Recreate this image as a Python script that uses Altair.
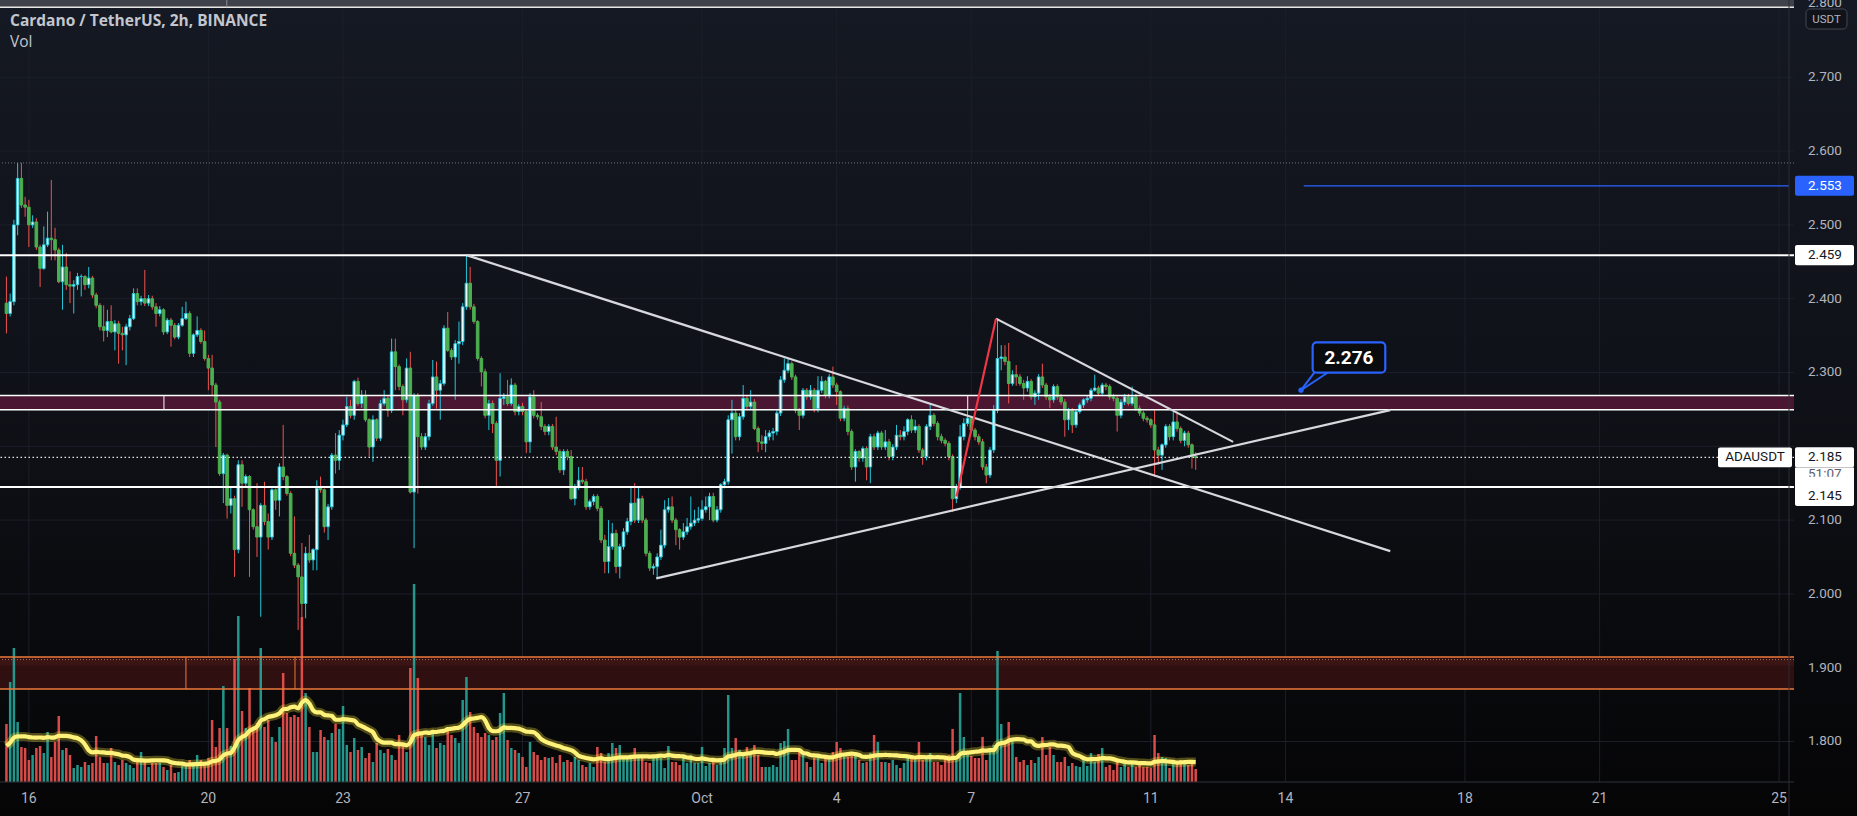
import altair as alt
import pandas as pd

# ------------------------------------------------------------------ data
# time unit: day of September (Oct 1 = 31); 2h candles
START_DAY = 15.5
STEP_DAYS = 2 / 24
FIRST_OPEN = 2.394

close = [
 2.380,2.396,2.500,2.563,2.527,2.524,2.500,2.504,2.470,2.441,
 2.473,2.482,2.480,2.466,2.423,2.443,2.419,2.417,2.419,2.430,
 2.430,2.419,2.428,2.405,2.391,2.362,2.357,2.369,2.355,2.366,
 2.353,2.351,2.362,2.373,2.407,2.396,2.400,2.394,2.400,2.389,
 2.380,2.385,2.355,2.371,2.364,2.348,2.364,2.373,2.380,2.326,
 2.351,2.357,2.342,2.319,2.306,2.283,2.260,2.163,2.188,2.120,
 2.129,2.060,2.175,2.150,2.159,2.114,2.091,2.077,2.120,2.098,
 2.077,2.141,2.127,2.172,2.159,2.136,2.055,2.039,2.023,1.987,
 2.055,2.046,2.060,2.143,2.141,2.091,2.118,2.188,2.181,2.215,
 2.229,2.254,2.242,2.288,2.258,2.269,2.236,2.199,2.236,2.211,
 2.258,2.265,2.249,2.328,2.308,2.281,2.263,2.306,2.138,2.269,
 2.213,2.199,2.213,2.258,2.294,2.276,2.285,2.360,2.330,2.321,
 2.339,2.342,2.389,2.421,2.389,2.369,2.319,2.301,2.242,2.258,
 2.231,2.181,2.265,2.267,2.258,2.283,2.247,2.254,2.247,2.206,
 2.267,2.242,2.240,2.227,2.220,2.227,2.199,2.193,2.168,2.193,
 2.186,2.129,2.145,2.154,2.152,2.118,2.125,2.132,2.116,2.073,
 2.044,2.064,2.082,2.037,2.064,2.084,2.098,2.123,2.100,2.129,
 2.100,2.055,2.035,2.037,2.050,2.066,2.114,2.118,2.100,2.087,
 2.077,2.084,2.091,2.096,2.100,2.102,2.114,2.118,2.132,2.100,
 2.114,2.148,2.152,2.236,2.245,2.213,2.240,2.265,2.254,2.260,
 2.224,2.206,2.204,2.213,2.218,2.220,2.245,2.290,2.303,2.312,
 2.294,2.249,2.242,2.276,2.267,2.276,2.251,2.276,2.288,2.269,
 2.294,2.283,2.274,2.238,2.251,2.220,2.172,2.193,2.184,2.197,
 2.172,2.213,2.199,2.218,2.199,2.206,2.186,2.199,2.215,2.213,
 2.220,2.236,2.222,2.227,2.195,2.186,2.227,2.242,2.231,2.213,
 2.208,2.204,2.186,2.129,2.145,2.213,2.231,2.238,2.222,2.213,
 2.206,2.172,2.161,2.195,2.249,2.319,2.321,2.315,2.285,2.297,
 2.294,2.285,2.279,2.288,2.267,2.272,2.294,2.283,2.267,2.263,
 2.281,2.267,2.260,2.236,2.249,2.229,2.247,2.256,2.263,2.265,
 2.276,2.279,2.272,2.283,2.281,2.267,2.265,2.242,2.260,2.267,
 2.258,2.267,2.251,2.245,2.238,2.236,2.229,2.195,2.188,2.202,
 2.227,2.213,2.233,2.224,2.208,2.218,2.202,2.186,2.185,
]
high = [
 2.430,2.407,2.507,2.584,2.584,2.538,2.534,2.513,2.509,2.473,
 2.498,2.518,2.561,2.496,2.469,2.473,2.462,2.437,2.425,2.435,
 2.433,2.432,2.443,2.431,2.408,2.394,2.391,2.385,2.391,2.371,
 2.370,2.362,2.366,2.378,2.414,2.414,2.404,2.439,2.405,2.404,
 2.394,2.390,2.387,2.374,2.374,2.367,2.367,2.389,2.396,2.383,
 2.353,2.376,2.360,2.357,2.324,2.324,2.286,2.263,2.191,2.190,
 2.145,2.133,2.181,2.181,2.162,2.161,2.116,2.150,2.123,2.152,
 2.109,2.143,2.143,2.177,2.229,2.161,2.139,2.105,2.042,2.069,
 2.064,2.080,2.062,2.154,2.159,2.143,2.122,2.191,2.218,2.222,
 2.236,2.267,2.263,2.290,2.293,2.276,2.276,2.238,2.242,2.238,
 2.263,2.276,2.269,2.346,2.346,2.311,2.284,2.319,2.328,2.272,
 2.272,2.218,2.218,2.263,2.317,2.315,2.290,2.364,2.382,2.333,
 2.344,2.369,2.394,2.459,2.443,2.393,2.371,2.322,2.305,2.263,
 2.262,2.234,2.299,2.272,2.290,2.292,2.286,2.257,2.259,2.250,
 2.272,2.276,2.245,2.260,2.230,2.230,2.230,2.240,2.196,2.196,
 2.196,2.195,2.149,2.172,2.172,2.156,2.128,2.135,2.135,2.119,
 2.080,2.100,2.096,2.087,2.068,2.089,2.103,2.145,2.150,2.145,
 2.133,2.103,2.058,2.041,2.055,2.087,2.127,2.130,2.132,2.103,
 2.089,2.096,2.103,2.132,2.114,2.118,2.127,2.132,2.137,2.137,
 2.119,2.150,2.156,2.242,2.263,2.249,2.245,2.283,2.268,2.276,
 2.264,2.227,2.215,2.222,2.222,2.225,2.249,2.295,2.319,2.320,
 2.315,2.297,2.252,2.279,2.279,2.283,2.279,2.295,2.295,2.290,
 2.298,2.308,2.286,2.276,2.255,2.255,2.223,2.196,2.195,2.200,
 2.200,2.217,2.217,2.221,2.221,2.222,2.210,2.203,2.229,2.222,
 2.227,2.238,2.242,2.236,2.230,2.198,2.230,2.258,2.245,2.234,
 2.217,2.211,2.207,2.189,2.149,2.229,2.238,2.249,2.241,2.225,
 2.217,2.210,2.176,2.199,2.256,2.373,2.337,2.337,2.340,2.303,
 2.310,2.298,2.290,2.295,2.291,2.276,2.298,2.312,2.286,2.271,
 2.284,2.284,2.271,2.264,2.252,2.252,2.250,2.259,2.265,2.269,
 2.279,2.297,2.282,2.286,2.286,2.284,2.271,2.268,2.264,2.271,
 2.271,2.281,2.271,2.255,2.248,2.241,2.238,2.249,2.199,2.204,
 2.230,2.230,2.247,2.247,2.227,2.221,2.221,2.204,2.192,
]
low = [
 2.353,2.376,2.391,2.486,2.523,2.511,2.470,2.496,2.466,2.416,
 2.439,2.470,2.452,2.452,2.421,2.385,2.412,2.394,2.380,2.412,
 2.403,2.412,2.414,2.401,2.387,2.357,2.342,2.348,2.353,2.330,
 2.312,2.330,2.310,2.357,2.371,2.391,2.391,2.390,2.390,2.385,
 2.362,2.376,2.351,2.352,2.335,2.345,2.345,2.362,2.371,2.321,
 2.321,2.348,2.339,2.316,2.276,2.269,2.199,2.160,2.123,2.102,
 2.109,2.023,2.055,2.118,2.146,2.023,2.087,2.050,1.969,2.093,
 2.060,2.073,2.114,2.105,2.154,2.133,2.051,2.035,1.951,1.953,
 1.967,2.042,2.032,2.032,2.137,2.083,2.073,2.114,2.163,2.168,
 2.208,2.226,2.238,2.236,2.255,2.252,2.233,2.186,2.179,2.207,
 2.207,2.255,2.240,2.245,2.276,2.276,2.242,2.259,2.136,2.062,
 2.136,2.195,2.195,2.208,2.255,2.251,2.236,2.282,2.328,2.317,
 2.263,2.312,2.337,2.385,2.385,2.366,2.316,2.281,2.238,2.222,
 2.218,2.145,2.159,2.256,2.255,2.255,2.242,2.242,2.242,2.191,
 2.191,2.238,2.236,2.222,2.215,2.215,2.195,2.188,2.164,2.161,
 2.181,2.127,2.120,2.141,2.149,2.114,2.114,2.120,2.112,2.069,
 2.028,2.028,2.060,2.028,2.021,2.060,2.080,2.093,2.096,2.096,
 2.096,2.051,2.031,2.026,2.021,2.046,2.062,2.110,2.096,2.066,
 2.060,2.073,2.080,2.087,2.092,2.096,2.099,2.110,2.100,2.097,
 2.097,2.110,2.143,2.148,2.190,2.208,2.208,2.236,2.249,2.249,
 2.222,2.192,2.195,2.192,2.208,2.208,2.215,2.241,2.286,2.299,
 2.290,2.245,2.222,2.238,2.263,2.263,2.246,2.246,2.272,2.265,
 2.265,2.279,2.256,2.234,2.234,2.215,2.168,2.152,2.179,2.179,
 2.154,2.150,2.195,2.195,2.195,2.195,2.181,2.181,2.195,2.208,
 2.208,2.215,2.218,2.218,2.191,2.175,2.181,2.222,2.227,2.208,
 2.204,2.200,2.181,2.111,2.123,2.141,2.208,2.227,2.218,2.208,
 2.202,2.168,2.150,2.157,2.191,2.245,2.303,2.310,2.258,2.282,
 2.282,2.282,2.263,2.274,2.263,2.256,2.263,2.279,2.263,2.252,
 2.259,2.263,2.256,2.213,2.222,2.218,2.225,2.244,2.252,2.259,
 2.261,2.274,2.268,2.268,2.276,2.263,2.261,2.220,2.238,2.256,
 2.255,2.255,2.248,2.241,2.234,2.232,2.225,2.159,2.175,2.168,
 2.198,2.208,2.208,2.220,2.204,2.200,2.198,2.170,2.168,
]
volume = [
 58,100,134,60,35,34,22,27,34,36, 29,50,25,40,66,32,34,27,14,17,
 15,20,17,19,46,25,19,19,34,20, 17,22,19,17,14,22,30,22,15,19,
 19,19,15,12,17,9,10,16,15,22, 20,27,22,20,24,62,35,54,96,54,
 36,123,166,71,54,94,52,59,134,55, 62,45,40,55,109,69,65,67,65,165,
 89,55,30,30,52,45,42,49,58,53, 76,37,30,44,32,35,24,29,20,39,
 32,29,33,27,22,47,37,30,114,198, 104,49,45,37,50,34,39,37,54,47,
 44,39,82,105,70,55,49,45,49,47, 42,45,69,89,42,34,32,29,25,15,
 40,30,27,22,25,24,25,19,27,20, 22,20,25,22,17,15,19,15,35,29,
 20,29,39,34,37,25,24,27,34,24, 24,20,19,25,
 24,24,14,36,20,20,17,24,19,27, 19,19,35,16,19,20,17,22,34,87,
 34,44,32,30,35,30,37,27,15,15, 15,17,15,39,41,53,22,22,30,29,
 20,15,24,25,19,24,24,30,40,34, 27,25,27,27,22,19,20,29,47,40,
 20,20,19,22,17,14,19,24,27,22, 40,22,25,29,20,20,17,24,27,53,
 25,89,45,27,26,24,24,45,22,34, 37,131,58,41,60,42,25,20,22,17,
 22,19,25,45,27,35,27,20,20,25, 16,19,16,15,22,16,29,20,28,34,
 15,17,12,20,15,19,15,19,15,17, 15,15,14,47,29,25,24,14,20,20,
 22,19,17,20,13,
]
# MA(20) level read at the left edge (average of the off-screen bars before the first one)
PRIOR_VOLUME_MEAN = 35
MA_LEN = 20

# axis ticks
day_ticks = [16, 20, 23, 27, 31, 34, 37, 41, 44, 48, 51, 55]
day_tick_labels = ["16", "20", "23", "27", "Oct", "4", "7", "11", "14", "18", "21", "25"]
price_ticks = [1.8, 1.9, 2.0, 2.1, 2.2, 2.3, 2.4, 2.5, 2.6, 2.7, 2.8]
price_labels_shown = [1.8, 1.9, 2.0, 2.1, 2.3, 2.4, 2.5, 2.6, 2.7, 2.8]

# drawings
hlines_white = [2.459, 2.145]
zone_maroon = [2.2495, 2.2688]
zone_maroon_edges = [19.01, 36.92]
zone_orange = [1.8711, 1.9145]
zone_orange_inner = [1.903, 1.911]
zone_orange_dotted = 1.911
zone_orange_edges = [19.50, 21.93]
top_band = [2.7950, 2.8047]
top_band_edge = 20.41
range_high_dotted = 2.584
last_price = 2.185
blue_line = {"p": 2.553, "d1": 44.407}
trend_d1 = [25.75, 29.98, 37.55]
trend_p1 = [2.459, 2.021, 2.373]
trend_d2 = [46.335, 46.335, 42.834]
trend_p2 = [2.058, 2.249, 2.206]
red_d = [36.67, 37.55]
red_p = [2.132, 2.373]
callout_anchor = (44.346, 2.276)
callout_box = (44.606, 46.224, 2.2997, 2.3409)
callout_base = [44.643, 44.937]
callout_text = "2.276"

X_MIN, X_MAX = 15.4682, 55.2201
Y_MIN, Y_MAX = 1.74512, 2.80474
W, H = 1794, 782

assert len(close) == len(high) == len(low) == len(volume), (
    len(close), len(high), len(low), len(volume))

# ------------------------------------------------------------------ frames
n = len(close)
days = [START_DAY + i * STEP_DAYS for i in range(n)]
opens = [FIRST_OPEN] + close[:-1]
df = pd.DataFrame({"day": days, "open": opens, "close": close,
                   "high": high, "low": low, "vol": volume})
df["high"] = df[["high", "open", "close"]].max(axis=1)
df["low"] = df[["low", "open", "close"]].min(axis=1)
df["up"] = df["close"] >= df["open"]
df["bt"] = df[["open", "close"]].max(axis=1)
df["bb"] = df[["open", "close"]].min(axis=1)
df["zero"] = 0.0
df["shown"] = True

# history rows only used to seed the moving average window
prior = pd.DataFrame({"day": [START_DAY - (k + 1) * STEP_DAYS for k in range(MA_LEN - 1)][::-1],
                      "vol": [PRIOR_VOLUME_MEAN] * (MA_LEN - 1), "shown": False})
ma_df = pd.concat([prior, df[["day", "vol", "shown"]]], ignore_index=True)

XS = alt.Scale(domain=[X_MIN, X_MAX], nice=False, zero=False)
YS = alt.Scale(domain=[Y_MIN, Y_MAX], nice=False, zero=False)
VS = alt.Scale(domain=[0, H], nice=False, zero=True)


def X(f):
    return alt.X(f, type="quantitative", scale=XS, axis=None)


def Y(f):
    return alt.Y(f, type="quantitative", scale=YS, axis=None)


one = pd.DataFrame({"k": [0]})
FONT = "Roboto"
AXIS_C = "#b2b5be"

# ------------------------------------------------------------------ back layers
bg = alt.Chart(one).mark_rect(
    color=alt.Gradient(gradient="linear",
                       stops=[alt.GradientStop(color="#151923", offset=0),
                              alt.GradientStop(color="#0e1016", offset=0.55),
                              alt.GradientStop(color="#050506", offset=1)],
                       x1=0, x2=0, y1=0, y2=1)
).encode(x=alt.value(0), x2=alt.value(1857), y=alt.value(0), y2=alt.value(816))

grid_h = alt.Chart(pd.DataFrame({"p": price_ticks})).mark_rule(
    color="#1c1f29", strokeWidth=1).encode(y=Y("p"))
grid_v = alt.Chart(pd.DataFrame({"d": day_ticks})).mark_rule(
    color="#1c1f29", strokeWidth=1).encode(x=X("d"))

tb = alt.Chart(pd.DataFrame({"a": [top_band[0]], "b": [top_band[1]]})).mark_rect(
    color="#40424b").encode(y=Y("a"), y2="b")
tb_line = alt.Chart(pd.DataFrame({"p": [top_band[0]]})).mark_rule(
    color="#e6e6e6", strokeWidth=1.5).encode(y=Y("p"))
tb_edge = alt.Chart(pd.DataFrame({"d": [top_band_edge], "a": [top_band[0]], "b": [top_band[1]]})
                    ).mark_rule(color="#8a8c94", strokeWidth=1).encode(x=X("d"), y=Y("a"), y2="b")

zm = alt.Chart(pd.DataFrame({"a": [zone_maroon[0]], "b": [zone_maroon[1]]})).mark_rect(
    color="#4a1631").encode(y=Y("a"), y2="b")
zo = alt.Chart(pd.DataFrame({"a": [zone_orange[0]], "b": [zone_orange[1]]})).mark_rect(
    color="#2f0f10").encode(y=Y("a"), y2="b")
zo_in = alt.Chart(pd.DataFrame({"a": [zone_orange_inner[0]], "b": [zone_orange_inner[1]]})).mark_rect(
    color="#3b1414").encode(y=Y("a"), y2="b")

back = alt.layer(bg, grid_h, grid_v, tb, tb_line, tb_edge, zm, zo, zo_in)

# ------------------------------------------------------------------ volume
vcolor = alt.condition("datum.up", alt.value("#26a69a"), alt.value("#ef5350"))
vol_bars = alt.Chart(df).mark_rule(strokeWidth=2.5, opacity=0.9).encode(
    x=X("day"), y=alt.Y("zero:Q", scale=VS, axis=None), y2="vol:Q", color=vcolor)
ma_base = alt.Chart(ma_df).transform_window(
    ma="mean(vol)", frame=[-(MA_LEN - 1), 0], sort=[alt.SortField("day")]
).transform_filter("datum.shown")
ma_glow = ma_base.mark_line(color="#ffeb3b", strokeWidth=9, opacity=0.3,
                            interpolate="monotone").encode(
    x=X("day"), y=alt.Y("ma:Q", scale=VS, axis=None))
ma_line = ma_base.mark_line(color="#fff27a", strokeWidth=4.2,
                            interpolate="monotone").encode(
    x=X("day"), y=alt.Y("ma:Q", scale=VS, axis=None))
vol = alt.layer(vol_bars, ma_glow, ma_line)

# ------------------------------------------------------------------ front layers
wick_color = alt.condition("datum.up", alt.value("#26c6da"), alt.value("#ef5350"))
wicks = alt.Chart(df).mark_rule(strokeWidth=1).encode(
    x=X("day"), y=Y("low"), y2="high", color=wick_color)
bodies = alt.Chart(df).mark_bar(size=2.6, strokeWidth=1).encode(
    x=X("day"), y=Y("bb"), y2="bt",
    fill=alt.condition("datum.up", alt.value("#e6fbfc"), alt.value("#4caf50")),
    stroke=alt.condition("datum.up", alt.value("#26c6da"), alt.value("#4caf50")))

# axis lines and tick labels
borders = alt.Chart(pd.DataFrame({"d": [X_MAX]})).mark_rule(
    color="#2a2d37", strokeWidth=1).encode(x=X("d"), y=alt.value(0), y2=alt.value(816))
bottom = alt.Chart(pd.DataFrame({"p": [Y_MIN]})).mark_rule(
    color="#2f323c", strokeWidth=1).encode(y=Y("p"))
x_lbl = alt.Chart(pd.DataFrame({"d": day_ticks, "t": day_tick_labels})).mark_text(
    font=FONT, fontSize=14, color=AXIS_C, baseline="middle", align="center").encode(
    x=X("d"), y=alt.value(799), text="t:N")
y_lbl = alt.Chart(pd.DataFrame({"p": price_labels_shown,
                                "t": [f"{p:.3f}" for p in price_labels_shown]})).mark_text(
    font=FONT, fontSize=13.5, color=AXIS_C, baseline="middle", align="left").encode(
    x=alt.value(1808), y=Y("p"), text="t:N")

zm_lines = alt.Chart(pd.DataFrame({"p": zone_maroon})).mark_rule(
    color="#ffffff", strokeWidth=1.5).encode(y=Y("p"))
zm_edges = alt.Chart(pd.DataFrame({"d": zone_maroon_edges, "a": [zone_maroon[0]] * 2,
                                   "b": [zone_maroon[1]] * 2})).mark_rule(
    color="#ffffff", strokeWidth=1).encode(x=X("d"), y=Y("a"), y2="b")
zo_lines = alt.Chart(pd.DataFrame({"p": zone_orange})).mark_rule(
    color="#ec7a3a", strokeWidth=1.5).encode(y=Y("p"))
zo_dot = alt.Chart(pd.DataFrame({"p": [zone_orange_dotted]})).mark_rule(
    color="#b8705a", strokeWidth=1, strokeDash=[1, 2]).encode(y=Y("p"))
zo_edges = alt.Chart(pd.DataFrame({"d": zone_orange_edges, "a": [zone_orange[0]] * 2,
                                   "b": [zone_orange[1]] * 2})).mark_rule(
    color="#ec7a3a", strokeWidth=1).encode(x=X("d"), y=Y("a"), y2="b")

white_lines = alt.Chart(pd.DataFrame({"p": hlines_white})).mark_rule(
    color="#ffffff", strokeWidth=2).encode(y=Y("p"))
hi_dot = alt.Chart(pd.DataFrame({"p": [range_high_dotted]})).mark_rule(
    color="#6f727c", strokeWidth=1, strokeDash=[1, 2]).encode(y=Y("p"))
last_dot = alt.Chart(pd.DataFrame({"p": [last_price]})).mark_rule(
    color="#e8e8e8", strokeWidth=1.2, strokeDash=[1.5, 2.5]).encode(y=Y("p"))
blue = alt.Chart(pd.DataFrame({"d1": [blue_line["d1"]], "d2": [X_MAX], "p": [blue_line["p"]]})
                 ).mark_rule(color="#2962ff", strokeWidth=1.2).encode(x=X("d1"), x2="d2", y=Y("p"))

trends = alt.Chart(pd.DataFrame({"d1": trend_d1, "p1": trend_p1, "d2": trend_d2, "p2": trend_p2})
                   ).mark_rule(color="#d6d8de", strokeWidth=2.2).encode(
    x=X("d1"), y=Y("p1"), x2="d2", y2="p2")
red = alt.Chart(pd.DataFrame({"d1": [red_d[0]], "p1": [red_p[0]], "d2": [red_d[1]], "p2": [red_p[1]]})
                ).mark_rule(color="#f23645", strokeWidth=2.2).encode(
    x=X("d1"), y=Y("p1"), x2="d2", y2="p2")

# callout
cb = callout_box
call_ptr = alt.Chart(pd.DataFrame({"d1": [callout_anchor[0]] * 2, "p1": [callout_anchor[1]] * 2,
                                   "d2": callout_base, "p2": [cb[2]] * 2})).mark_rule(
    color="#2962ff", strokeWidth=2).encode(x=X("d1"), y=Y("p1"), x2="d2", y2="p2")
call_dot = alt.Chart(pd.DataFrame({"d": [callout_anchor[0]], "p": [callout_anchor[1]]})).mark_point(
    filled=True, size=28, color="#2962ff", opacity=1).encode(x=X("d"), y=Y("p"))
call_box = alt.Chart(pd.DataFrame({"d1": [cb[0]], "d2": [cb[1]], "p1": [cb[2]], "p2": [cb[3]]})
                     ).mark_rect(cornerRadius=4, fill="#0a0b0f", stroke="#2962ff", strokeWidth=2.2).encode(
    x=X("d1"), x2="d2", y=Y("p1"), y2="p2")
call_txt = alt.Chart(pd.DataFrame({"d": [(cb[0] + cb[1]) / 2], "p": [(cb[2] + cb[3]) / 2],
                                   "t": [callout_text]})).mark_text(
    font=FONT, fontSize=19, fontWeight="bold", color="#ffffff", baseline="middle",
    align="center").encode(x=X("d"), y=Y("p"), text="t:N")

# price labels on the right axis
HALF = 0.0136
lbl = pd.DataFrame({"p": [2.553, 2.459, 2.185],
                    "t": ["2.553", "2.459", "2.185"],
                    "fill": ["#2962ff", "#ffffff", "#ffffff"],
                    "tc": ["#ffffff", "#131722", "#131722"]})
lbl["a"] = lbl["p"] - HALF
lbl["b"] = lbl["p"] + HALF
lbl_box = alt.Chart(lbl).mark_rect(cornerRadius=2).encode(
    x=alt.value(1795), x2=alt.value(1854), y=Y("a"), y2="b",
    fill=alt.Fill("fill:N", scale=None))
lbl_txt = alt.Chart(lbl).mark_text(font=FONT, fontSize=13.5, align="left",
                                   baseline="middle").encode(
    x=alt.value(1808), y=Y("p"), text="t:N", color=alt.Color("tc:N", scale=None))
cd = pd.DataFrame({"a": [last_price - 0.0406], "b": [last_price - HALF],
                   "p": [last_price], "t": ["51:07"]})
cd_box = alt.Chart(cd).mark_rect().encode(
    x=alt.value(1795), x2=alt.value(1854), y=Y("a"), y2="b", color=alt.value("#ffffff"))
cd_txt = alt.Chart(cd).mark_text(font=FONT, fontSize=13.5, align="left", baseline="middle",
                                 dy=17, color="#5d606b").encode(
    x=alt.value(1808), y=Y("p"), text="t:N")
sl = pd.DataFrame({"p": [2.145], "t": ["2.145"]})
sl["a"] = sl["p"] - HALF
sl["b"] = sl["p"] + HALF
sl_box = alt.Chart(sl).mark_rect(yOffset=9, cornerRadius=2, color="#ffffff").encode(
    x=alt.value(1795), x2=alt.value(1854), y=Y("a"), y2="b")
sl_txt = alt.Chart(sl).mark_text(font=FONT, fontSize=13.5, align="left", baseline="middle",
                                 dy=9, color="#131722").encode(
    x=alt.value(1808), y=Y("p"), text="t:N")

sym = pd.DataFrame({"p": [last_price], "t": ["ADAUSDT"]})
sym["a"] = sym["p"] - 0.0134
sym["b"] = sym["p"] + 0.0134
sym_box = alt.Chart(sym).mark_rect(cornerRadius=2, color="#ffffff").encode(
    x=alt.value(1718), x2=alt.value(1792), y=Y("a"), y2="b")
sym_txt = alt.Chart(sym).mark_text(font=FONT, fontSize=13.5, align="center",
                                   baseline="middle", color="#131722").encode(
    x=alt.value(1755), y=Y("p"), text="t:N")

usdt_box = alt.Chart(one).mark_rect(cornerRadius=4, fill="#11131a", stroke="#434651",
                                    strokeWidth=1).encode(
    x=alt.value(1806), x2=alt.value(1847), y=alt.value(9), y2=alt.value(29))
usdt_txt = alt.Chart(pd.DataFrame({"t": ["USDT"]})).mark_text(
    font=FONT, fontSize=11.5, color=AXIS_C, align="center", baseline="middle").encode(
    x=alt.value(1826.5), y=alt.value(19.5), text="t:N")

title_df = pd.DataFrame({"t": ["Cardano / TetherUS, 2h, BINANCE"]})
title_txt = alt.Chart(title_df).mark_text(font="Open Sans", fontSize=15.5, fontWeight="bold",
                                          color="#c3c6ce", align="left", baseline="middle").encode(
    x=alt.value(10), y=alt.value(21), text="t:N")
vol_df = pd.DataFrame({"t": ["Vol"]})
vol_txt = alt.Chart(vol_df).mark_text(font="Open Sans", fontSize=15.5, color="#c3c6ce",
                                      align="left", baseline="middle").encode(
    x=alt.value(10), y=alt.value(42), text="t:N")

front = alt.layer(
    wicks, bodies,
    zm_lines, zm_edges, zo_lines, zo_dot, zo_edges,
    white_lines, hi_dot, last_dot, blue,
    trends, red,
    call_ptr, call_dot, call_box, call_txt,
    borders, bottom, x_lbl, y_lbl,
    sym_box, sym_txt,
    lbl_box, lbl_txt, cd_box, cd_txt, sl_box, sl_txt,
    usdt_box, usdt_txt,
    title_txt, vol_txt,
)

chart = alt.layer(back, vol, front).resolve_scale(y="independent").properties(
    width=W, height=H,
    padding={"left": 0, "top": 0, "right": 63, "bottom": 34},
    autosize=alt.AutoSizeParams(type="none"),
    background="#0b0c10",
).configure_view(stroke=None)

chart.save("out.html", embed_options={"renderer": "svg", "actions": False})
